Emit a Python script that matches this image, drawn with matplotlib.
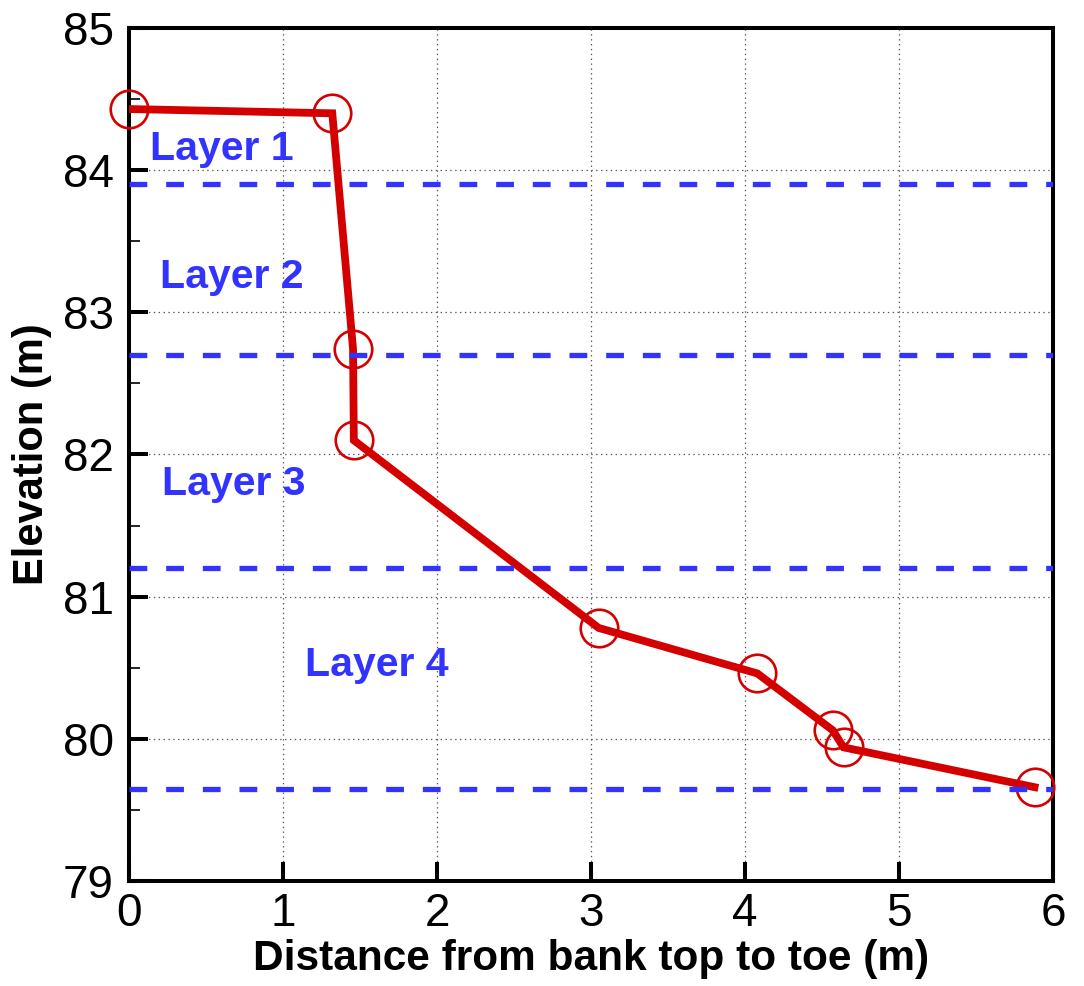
import numpy as np
import matplotlib.pyplot as plt
from matplotlib.ticker import MultipleLocator

# bank profile surveyed from top to toe
dist = [0.0, 1.32, 1.455, 1.46, 3.05, 4.08, 4.57, 4.64, 5.88]
elev = [84.43, 84.40, 82.74, 82.10, 80.78, 80.46, 80.06, 79.94, 79.66]

# bottom of each soil layer
layer_bottoms = [83.90, 82.70, 81.20, 79.65]
layer_names = ["Layer 1", "Layer 2", "Layer 3", "Layer 4"]
label_x = [0.60, 0.67, 0.68, 1.61]
label_y = [84.15, 83.25, 81.79, 80.52]

plt.rcParams["font.family"] = ["Liberation Sans", "DejaVu Sans"]
plt.rcParams["lines.scale_dashes"] = False

RED = "#d40000"
BLUE = "#3333ff"

fig = plt.figure(figsize=(10.84, 9.86), dpi=100)
ax = fig.add_axes([0.119, 0.1065, 0.8524, 0.8651])

ax.plot(dist, elev, color=RED, lw=5.6, solid_joinstyle="miter", zorder=3)
ax.plot(dist, elev, ls="none", marker="o", ms=27, mfc="none",
        mec=RED, mew=1.9, zorder=3, clip_on=False)

for yb in layer_bottoms:
    ax.plot([0, 6], [yb, yb], color=BLUE, lw=3.8, dashes=(12.8, 13.6),
            dash_capstyle="butt", zorder=4)

for name, xx, yy in zip(layer_names, label_x, label_y):
    ax.text(xx, yy, name, color=BLUE, fontsize=29.5, fontweight="bold",
            ha="center", va="center", zorder=5)

ax.set_xlim(0, 6)
ax.set_ylim(79, 85)
ax.xaxis.set_major_locator(MultipleLocator(1))
ax.yaxis.set_major_locator(MultipleLocator(1))
ax.yaxis.set_minor_locator(MultipleLocator(0.5))
ax.grid(True, which="major", ls=(0, (1, 2.5)), color="#555555", lw=0.9)
ax.set_axisbelow(True)

ax.tick_params(which="major", direction="in", length=14, width=2.9,
               labelsize=33, top=False, right=False)
ax.tick_params(axis="x", pad=8)
ax.tick_params(axis="y", pad=11)
ax.tick_params(which="minor", direction="in", length=8, width=1.2,
               top=False, right=False)
for sp in ax.spines.values():
    sp.set_linewidth(2.9)

ax.set_xlabel("Distance from bank top to toe (m)", fontsize=30.5,
              fontweight="bold", labelpad=2)
ax.set_ylabel("Elevation (m)", fontsize=30, fontweight="bold", labelpad=8)

fig.savefig("out.png", dpi=100)
